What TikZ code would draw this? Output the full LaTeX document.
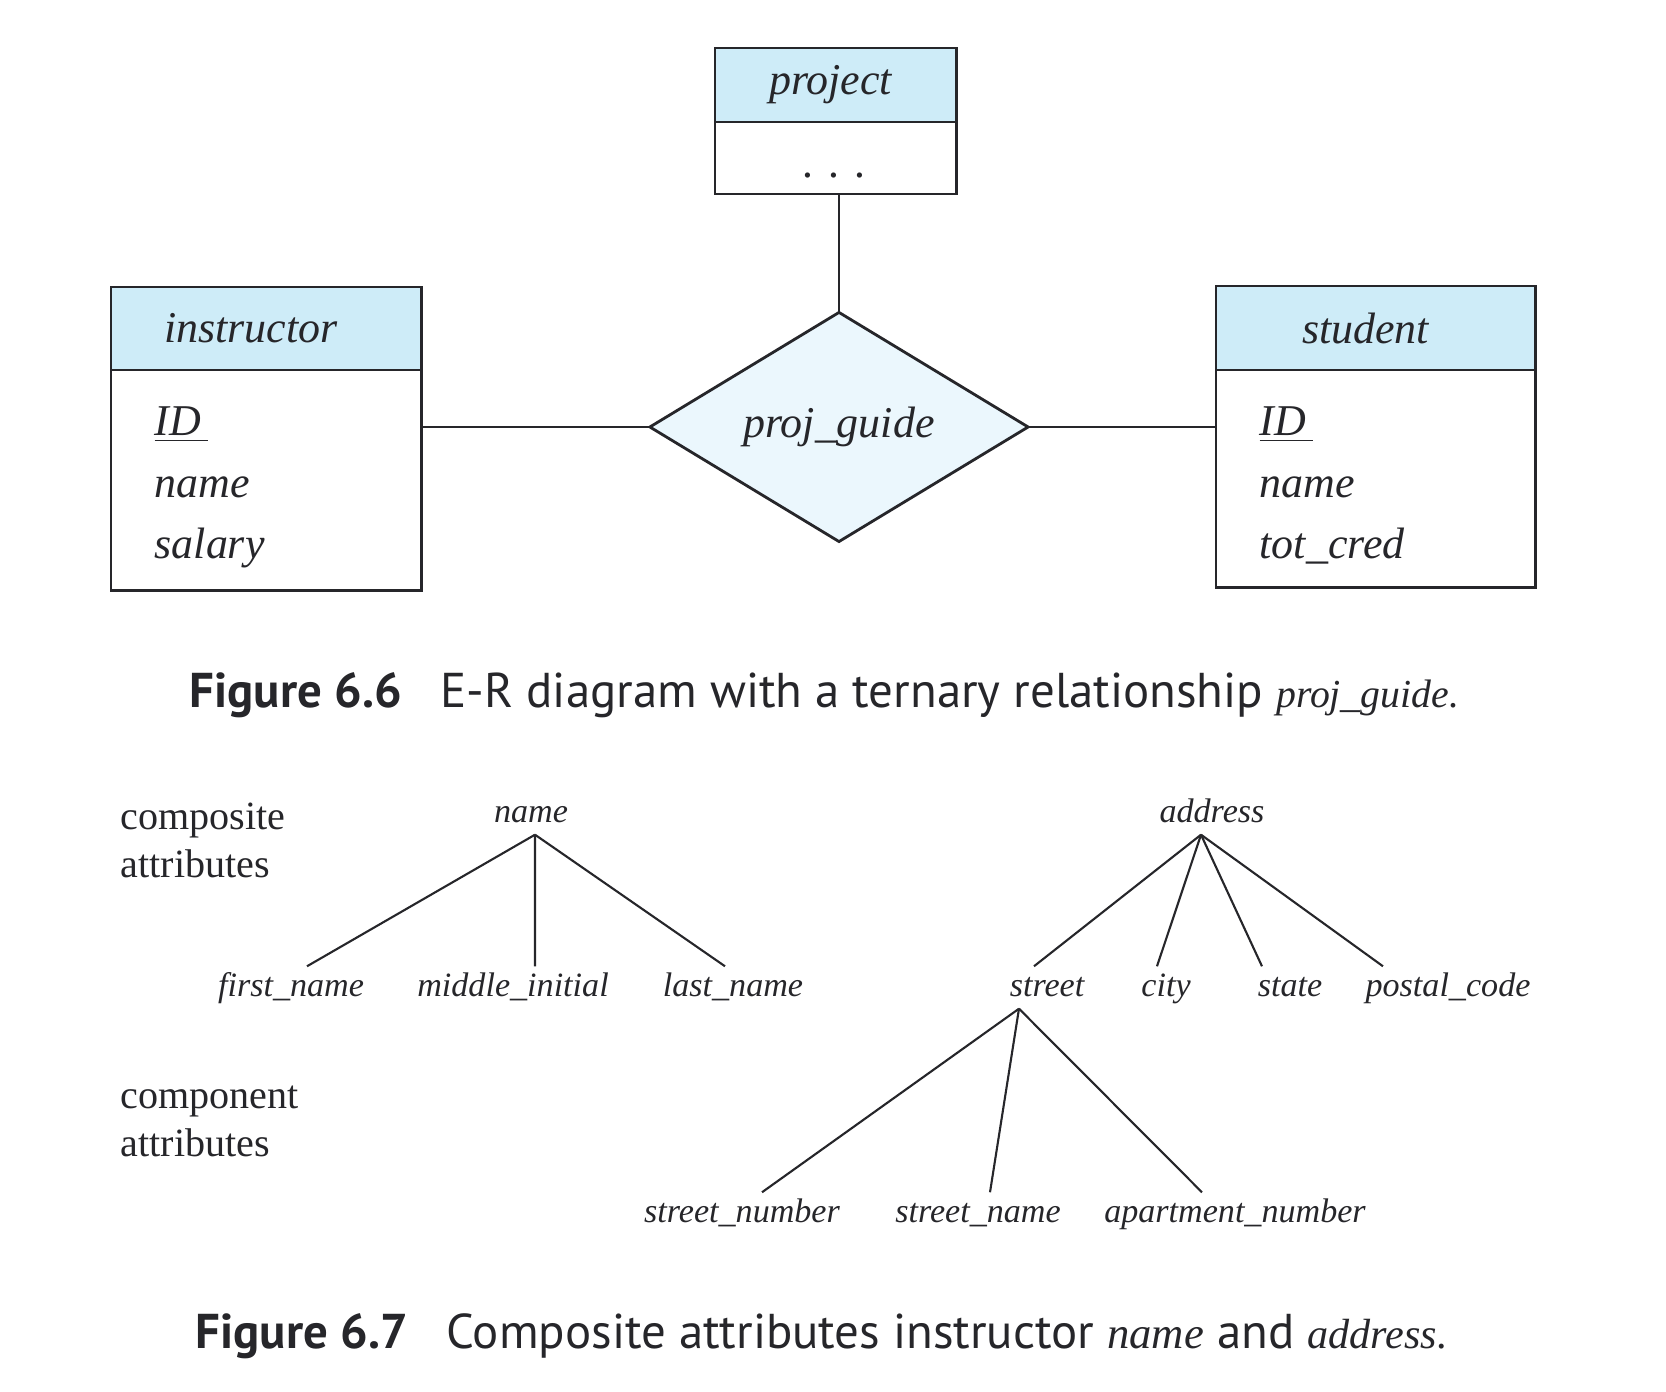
\documentclass[tikz,border=0pt]{standalone}
\usepackage{fontspec}
\setmainfont{Liberation Serif}
\newfontfamily\capfont{PT Sans}
\usepackage{tikz}
\usetikzlibrary{shapes.geometric}

\definecolor{hdrblue}{RGB}{206,236,248}
\definecolor{relblue}{RGB}{235,247,253}
\definecolor{ink}{RGB}{38,38,42}

\begin{document}
\begin{tikzpicture}[x=0.01cm, y=-0.01cm,
    erfont/.style={font=\fontsize{12.5pt}{17.6pt}\selectfont\itshape, text=ink},
    hdr/.style={erfont, draw=ink, line width=0.8pt, fill=hdrblue, inner sep=0pt, outer sep=0pt},
    body/.style={draw=ink, line width=0.8pt, fill=white, inner sep=0pt, outer sep=0pt},
    attrs/.style={erfont, align=left, inner sep=0pt},
    rel/.style={erfont, diamond, draw=ink, line width=0.8pt, fill=relblue, inner sep=0pt, outer sep=0pt, aspect=1.65},
    link/.style={draw=ink, line width=0.8pt},
    part/.style={font=\fontsize{9.7pt}{12pt}\selectfont\itshape, text=ink, inner sep=0pt, text height=0.30cm, text depth=0.11cm},
    branch/.style={draw=ink, line width=0.6pt},
    side/.style={font=\fontsize{11.4pt}{13.7pt}\selectfont, text=ink, align=left, inner sep=0pt},
    caption/.style={font=\capfont\fontsize{13.9pt}{17pt}\selectfont, text=ink, inner sep=0pt}]
    \useasboundingbox (0,0) rectangle (1666,1392);

    % Figure 6.6
    \node[hdr, minimum width=2.41cm, minimum height=0.74cm, anchor=north west] (proj) at (715,48) {project\kern0.1cm};
    \node[body, minimum width=2.41cm, minimum height=0.72cm, anchor=north] (projAttr) at (proj.south) {};
    \node[erfont, anchor=base, inner sep=0pt] (projDots) at (835,178) {.\hspace{4.3pt}.\hspace{4.3pt}.};

    \node[hdr, minimum width=3.10cm, minimum height=0.83cm, anchor=north west] (instr) at (111,287) {instructor\kern0.3cm};
    \node[body, minimum width=3.10cm, minimum height=2.20cm, anchor=north] (instrAttr) at (instr.south) {};
    \node[attrs, anchor=base west] (instrList) at (154,559) {\underline{ID\,}\\name\\salary};

    \node[hdr, minimum width=3.19cm, minimum height=0.84cm, anchor=north west] (stud) at (1216,286) {student\kern0.2cm};
    \node[body, minimum width=3.19cm, minimum height=2.17cm, anchor=north] (studAttr) at (stud.south) {};
    \node[attrs, anchor=base west] (studList) at (1259,559) {\underline{ID\,}\\name\\tot\_cred};

    \node[rel, minimum width=3.78cm, minimum height=2.29cm] (guide) at (839,427) {proj\_guide};

    \draw[link] (projAttr.south -| guide.north) -- (guide.north);
    \draw[link] (instrAttr.east |- guide.west) -- (guide.west);
    \draw[link] (guide.east) -- (studAttr.west |- guide.east);

    \node[caption, anchor=base west] (capA) at (189,708) {{\bfseries Figure 6.6}\hspace{11pt}E-R diagram with a ternary relationship {\rmfamily\itshape\fontsize{11.3pt}{14pt}\selectfont proj\_guide.}};

    % Figure 6.7
    \node[side, anchor=base west] (compLbl) at (120,878) {composite\\attributes};
    \node[side, anchor=base west] (partLbl) at (120,1157) {component\\attributes};

    \node[part, anchor=base] (name) at (531,823) {name};
    \node[part, anchor=base] (first) at (291,997) {first\_name};
    \node[part, anchor=base] (middle) at (513,997) {middle\_initial};
    \node[part, anchor=base] (last) at (733,997) {last\_name};

    \node[part, anchor=base] (address) at (1212,823) {address};
    \node[part, anchor=base] (street) at (1047,997) {street};
    \node[part, anchor=base] (city) at (1166,997) {city};
    \node[part, anchor=base] (state) at (1290,997) {state};
    \node[part, anchor=base] (postal) at (1448,997) {postal\_code};

    \node[part, anchor=base] (stnum) at (742,1223) {street\_number};
    \node[part, anchor=base] (stname) at (978,1223) {street\_name};
    \node[part, anchor=base] (apt) at (1235,1223) {apartment\_number};

    \draw[branch] ([xshift=0.4mm]name.south) -- ([xshift=1.6mm]first.north);
    \draw[branch] ([xshift=0.4mm]name.south) -- ([xshift=2.2mm]middle.north);
    \draw[branch] ([xshift=0.4mm]name.south) -- ([xshift=-0.8mm]last.north);

    \draw[branch] ([xshift=-1.1mm]address.south) -- ([xshift=-1.3mm]street.north);
    \draw[branch] ([xshift=-1.1mm]address.south) -- ([xshift=-0.9mm]city.north);
    \draw[branch] ([xshift=-1.1mm]address.south) -- ([xshift=-2.8mm]state.north);
    \draw[branch] ([xshift=-1.1mm]address.south) -- ([xshift=-6.5mm]postal.north);

    \draw[branch] ([xshift=-2.8mm]street.south) -- ([xshift=2.0mm]stnum.north);
    \draw[branch] ([xshift=-2.8mm]street.south) -- ([xshift=1.2mm]stname.north);
    \draw[branch] ([xshift=-2.8mm]street.south) -- ([xshift=-3.3mm]apt.north);

    \node[caption, anchor=base west] (capB) at (195,1349) {{\bfseries Figure 6.7}\hspace{11pt}Composite attributes instructor {\rmfamily\itshape\fontsize{12.7pt}{14pt}\selectfont name} and {\rmfamily\itshape\fontsize{12pt}{14pt}\selectfont address.}};
  \end{tikzpicture}
\end{document}
